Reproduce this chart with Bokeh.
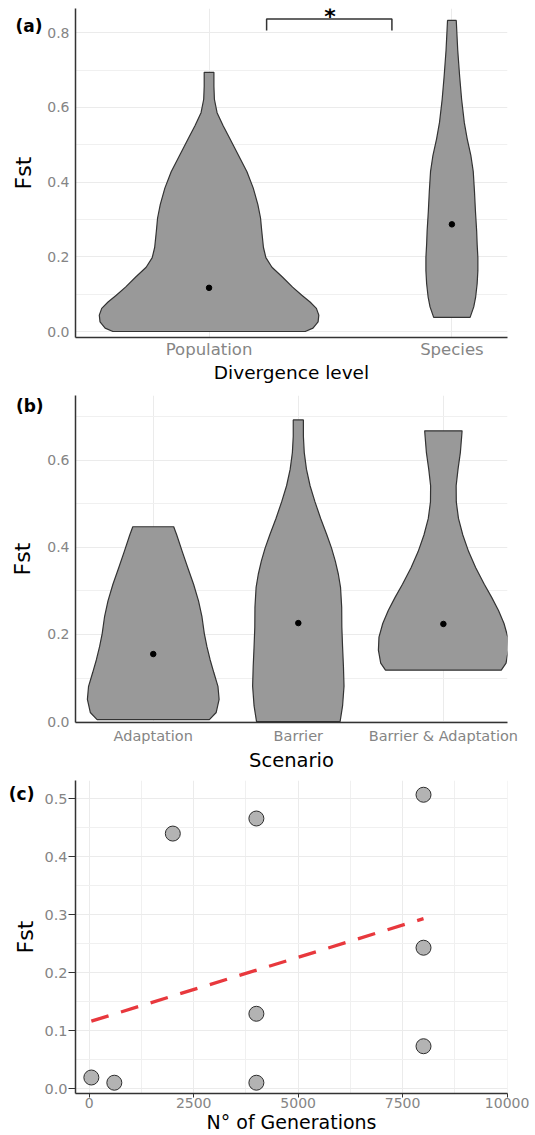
import numpy as np
from bokeh.plotting import figure
from bokeh.layouts import column
from bokeh.models import FixedTicker, Range1d, Label, PrintfTickFormatter
from bokeh.embed import file_html
from bokeh.resources import INLINE

FONT = "DejaVu Sans"

# ---------------- Panel (a): Divergence level ----------------
div_levels = ["Population", "Species"]
pop_y = [0.0, 0.009, 0.026, 0.044, 0.062, 0.079, 0.097, 0.119, 0.146, 0.172, 0.198, 0.225,
         0.269, 0.304, 0.340, 0.384, 0.428, 0.472, 0.516, 0.551, 0.586, 0.622, 0.657, 0.694]
pop_hw = [0.396, 0.428, 0.449, 0.452, 0.442, 0.416, 0.382, 0.344, 0.302, 0.259, 0.234, 0.224,
          0.217, 0.212, 0.201, 0.182, 0.156, 0.121, 0.086, 0.058, 0.033, 0.022, 0.020, 0.020]
spe_y = [0.038, 0.066, 0.093, 0.128, 0.163, 0.198, 0.234, 0.269, 0.322, 0.375, 0.428, 0.472,
         0.516, 0.560, 0.622, 0.683, 0.754, 0.833]
spe_hw = [0.075, 0.090, 0.098, 0.104, 0.107, 0.107, 0.104, 0.102, 0.097, 0.093, 0.088, 0.078,
          0.063, 0.051, 0.040, 0.032, 0.024, 0.018]
div_medians = [0.117, 0.287]
bracket_x = [1.237, 1.237, 1.753, 1.753]
bracket_y = [0.806, 0.837, 0.837, 0.806]

# ---------------- Panel (b): Scenario ----------------
scenarios = ["Adaptation", "Barrier", "Barrier & Adaptation"]
ada_y = [0.0045, 0.021, 0.051, 0.081, 0.112, 0.142, 0.172, 0.202, 0.240, 0.277, 0.315, 0.353,
         0.390, 0.428, 0.447]
ada_hw = [0.387, 0.434, 0.454, 0.446, 0.418, 0.392, 0.370, 0.352, 0.336, 0.312, 0.278, 0.238,
          0.200, 0.162, 0.141]
bar_y = [0.0, 0.036, 0.081, 0.127, 0.172, 0.217, 0.262, 0.308, 0.338, 0.368, 0.398, 0.428,
         0.466, 0.504, 0.541, 0.579, 0.617, 0.654, 0.692]
bar_hw = [0.288, 0.305, 0.315, 0.311, 0.305, 0.300, 0.299, 0.291, 0.276, 0.255, 0.229, 0.197,
          0.154, 0.115, 0.081, 0.056, 0.041, 0.035, 0.035]
ba_y = [0.118, 0.134, 0.164, 0.194, 0.225, 0.255, 0.285, 0.315, 0.353, 0.390, 0.428, 0.466,
        0.504, 0.541, 0.579, 0.617, 0.654, 0.667]
ba_hw = [0.399, 0.432, 0.448, 0.444, 0.418, 0.380, 0.333, 0.282, 0.223, 0.174, 0.134, 0.104,
         0.089, 0.088, 0.101, 0.117, 0.126, 0.129]
scen_medians = [0.155, 0.226, 0.224]

# ---------------- Panel (c): generations ----------------
generations = [50, 600, 2000, 4000, 4000, 4000, 8000, 8000, 8000]
fst_c = [0.019, 0.010, 0.440, 0.466, 0.129, 0.010, 0.507, 0.243, 0.073]

TICK_COLOR = "#858585"
AXIS_COLOR = "#333333"
LEFT, RIGHT = 75, 0


def base_style(p):
    p.outline_line_color = None
    p.background_fill_color = "white"
    p.border_fill_color = "white"
    p.xgrid.grid_line_color = "#ebebeb"
    p.ygrid.grid_line_color = "#ebebeb"
    p.ygrid.minor_grid_line_color = "#f0f0f0"
    for ax in (p.xaxis[0], p.yaxis[0]):
        ax.axis_line_color = AXIS_COLOR
        ax.axis_line_width = 1.5
        ax.major_label_text_color = TICK_COLOR
        ax.major_label_text_font = FONT
        ax.axis_label_text_font = FONT
        ax.axis_label_text_font_style = "normal"
        ax.axis_label_text_color = "black"
        ax.minor_tick_line_color = None
        ax.minor_tick_in = 0
        ax.minor_tick_out = 0


def no_ticks(ax):
    ax.major_tick_line_color = None
    ax.major_tick_in = 0
    ax.major_tick_out = 0


def violin(p, center, ys, hws):
    ys = np.asarray(ys, dtype=float)
    hws = np.asarray(hws, dtype=float)
    xs = np.concatenate([center - hws, (center + hws)[::-1]])
    yy = np.concatenate([ys, ys[::-1]])
    p.patch(xs, yy, fill_color="#999999", line_color="#333333", line_width=1.2)


def make_label(x, y, text, size="17px", align="left"):
    return Label(x=x, y=y, x_units="canvas", y_units="canvas", text=text,
                 text_font=FONT, text_font_style="bold", text_font_size=size,
                 text_baseline="alphabetic", text_align=align, text_color="black")


# ---------- Figure (a) ----------
pa = figure(width=535, height=385, output_backend="svg", toolbar_location=None,
            x_range=Range1d(0.450, 2.229), y_range=Range1d(-0.016, 0.865),
            min_border_left=LEFT, min_border_right=RIGHT, min_border_top=8, min_border_bottom=44)
base_style(pa)
violin(pa, 1, pop_y, pop_hw)
violin(pa, 2, spe_y, spe_hw)
pa.scatter(x=[i + 1 for i in range(len(div_levels))], y=div_medians, size=5.5, color="black")
pa.line(bracket_x, bracket_y, line_color="#333333", line_width=1.5)
pa.xaxis.ticker = FixedTicker(ticks=[i + 1 for i in range(len(div_levels))])
pa.xaxis.major_label_overrides = {i + 1: lab for i, lab in enumerate(div_levels)}
pa.xaxis.major_label_text_font_size = "16.5px"
pa.xaxis.major_label_standoff = 2
pa.xaxis.axis_label = "Divergence level"
pa.xaxis.axis_label_text_font_size = "18.5px"
pa.xaxis.axis_label_standoff = 0
no_ticks(pa.xaxis[0])
pa.yaxis.ticker = FixedTicker(ticks=[0, 0.2, 0.4, 0.6, 0.8], minor_ticks=[0.1, 0.3, 0.5, 0.7])
pa.yaxis.formatter = PrintfTickFormatter(format="%.1f")
pa.yaxis.major_label_text_font_size = "14px"
pa.yaxis.major_label_standoff = 6
pa.yaxis.axis_label = "Fst"
pa.yaxis.axis_label_text_font_size = "22px"
pa.yaxis.axis_label_standoff = 8
no_ticks(pa.yaxis[0])
pa.add_layout(make_label(15, 25.7, "(a)"), "right")
pa.add_layout(make_label(329.5, 15.5, "*", size="22px", align="center"))

# ---------- Figure (b) ----------
pb = figure(width=535, height=389, output_backend="svg", toolbar_location=None,
            x_range=Range1d(0.464, 3.442), y_range=Range1d(-0.002, 0.748),
            min_border_left=LEFT, min_border_right=RIGHT, min_border_top=10, min_border_bottom=47)
base_style(pb)
violin(pb, 1, ada_y, ada_hw)
violin(pb, 2, bar_y, bar_hw)
violin(pb, 3, ba_y, ba_hw)
pb.scatter(x=[i + 1 for i in range(len(scenarios))], y=scen_medians, size=5.5, color="black")
pb.xaxis.ticker = FixedTicker(ticks=[i + 1 for i in range(len(scenarios))])
pb.xaxis.major_label_overrides = {i + 1: lab for i, lab in enumerate(scenarios)}
pb.xaxis.major_label_text_font_size = "14.5px"
pb.xaxis.major_label_standoff = 5
pb.xaxis.axis_label = "Scenario"
pb.xaxis.axis_label_text_font_size = "19.5px"
pb.xaxis.axis_label_standoff = 2
no_ticks(pb.xaxis[0])
pb.yaxis.ticker = FixedTicker(ticks=[0, 0.2, 0.4, 0.6], minor_ticks=[0.1, 0.3, 0.5, 0.7])
pb.yaxis.formatter = PrintfTickFormatter(format="%.1f")
pb.yaxis.major_label_text_font_size = "14px"
pb.yaxis.major_label_standoff = 6
pb.yaxis.axis_label = "Fst"
pb.yaxis.axis_label_text_font_size = "22px"
pb.yaxis.axis_label_standoff = 9
no_ticks(pb.yaxis[0])
pb.add_layout(make_label(15.4, 20.7, "(b)"), "right")

# ---------- Figure (c) ----------
pc = figure(width=535, height=361, output_backend="svg", toolbar_location=None,
            x_range=Range1d(-329, 10010), y_range=Range1d(-0.0086, 0.5316),
            min_border_left=LEFT, min_border_right=RIGHT, min_border_top=6, min_border_bottom=42)
base_style(pc)
pc.xgrid.minor_grid_line_color = "#f0f0f0"
coef = np.polyfit(generations, fst_c, 1)
xfit = np.array([min(generations), max(generations)], dtype=float)
pc.scatter(generations, fst_c, size=15, fill_color="#b3b3b3", line_color="#2e2e2e", line_width=1)
pc.line(xfit, np.polyval(coef, xfit), line_color="#e8383d", line_width=3.3, line_dash="18 13")
pc.xaxis.ticker = FixedTicker(ticks=[0, 2500, 5000, 7500, 10000],
                              minor_ticks=[1250, 3750, 6250, 8750])
pc.xaxis.formatter = PrintfTickFormatter(format="%d")
pc.xaxis.major_label_text_font_size = "14px"
pc.xaxis.major_tick_out = 4
pc.xaxis.major_tick_in = 0
pc.xaxis.major_tick_line_color = AXIS_COLOR
pc.xaxis.major_label_standoff = 0
pc.xaxis.axis_label = "N° of Generations"
pc.xaxis.axis_label_text_font_size = "19px"
pc.xaxis.axis_label_standoff = 0
pc.yaxis.ticker = FixedTicker(ticks=[0, 0.1, 0.2, 0.3, 0.4, 0.5],
                              minor_ticks=[0.05, 0.15, 0.25, 0.35, 0.45])
pc.yaxis.formatter = PrintfTickFormatter(format="%.1f")
pc.yaxis.major_label_text_font_size = "14.5px"
pc.yaxis.major_tick_out = 7
pc.yaxis.major_tick_in = 0
pc.yaxis.major_tick_line_color = AXIS_COLOR
pc.yaxis.major_label_standoff = 1
pc.yaxis.axis_label = "Fst"
pc.yaxis.axis_label_text_font_size = "22px"
pc.yaxis.axis_label_standoff = 3
pc.add_layout(make_label(8.3, 19.3, "(c)"), "right")

layout = column(pa, pb, pc, spacing=0)
open("out.html", "w").write(file_html(layout, INLINE))
